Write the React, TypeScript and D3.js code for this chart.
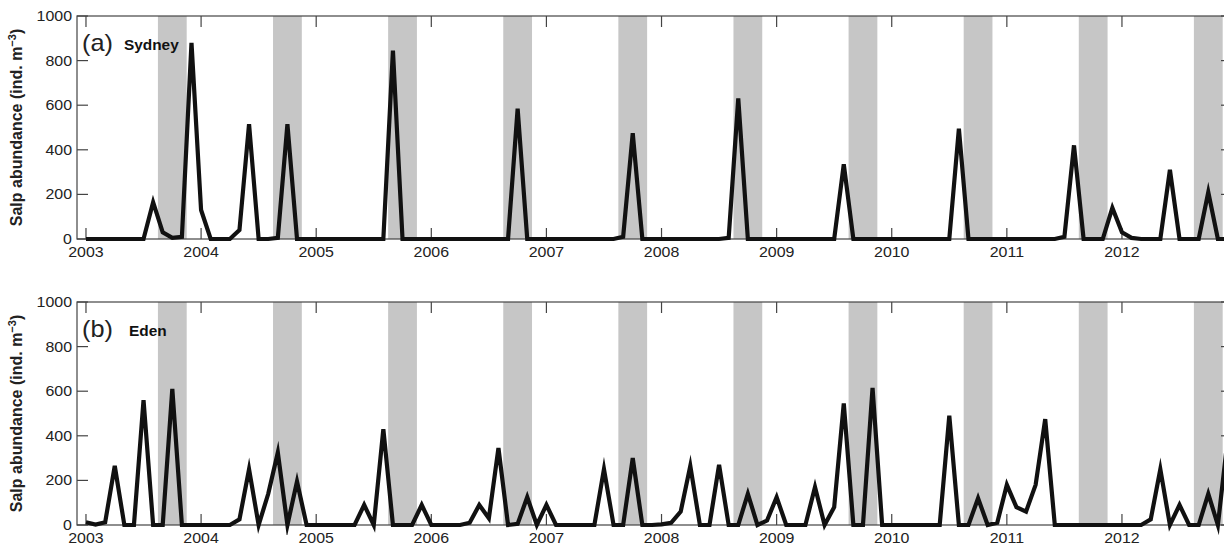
import * as d3 from 'd3';

// monthly samples, Jan 2003 .. Dec 2012
const startYear = 2003;
const sydney = [
  0, 0, 0, 0, 0, 0, 0, 165, 30, 5, 10, 880,
  130, 0, 0, 0, 40, 515, 0, 0, 5, 515, 0, 0,
  0, 0, 0, 0, 0, 0, 0, 0, 845, 0, 0, 0,
  0, 0, 0, 0, 0, 0, 0, 0, 0, 585, 0, 0,
  0, 0, 0, 0, 0, 0, 0, 0, 10, 475, 0, 0,
  0, 0, 0, 0, 0, 0, 0, 5, 630, 0, 0, 0,
  0, 0, 0, 0, 0, 0, 0, 335, 0, 0, 0, 0,
  0, 0, 0, 0, 0, 0, 0, 495, 0, 0, 0, 0,
  0, 0, 0, 0, 0, 0, 10, 420, 0, 0, 0, 140,
  30, 5, 0, 0, 0, 310, 0, 0, 0, 210, 0, 0,
];
const eden = [
  12, 2, 12, 265, 0, 0, 560, 0, 0, 610, 0, 0,
  0, 0, 0, 0, 25, 250, 0, 140, 325, 0, 195, 0,
  0, 0, 0, 0, 0, 90, 0, 430, 0, 0, 0, 90,
  0, 0, 0, 0, 10, 90, 30, 345, 0, 5, 125, 0,
  90, 0, 0, 0, 0, 0, 250, 0, 0, 300, 0, 0,
  3, 10, 60, 265, 0, 0, 270, 0, 0, 140, 0, 20,
  125, 0, 0, 0, 170, 0, 80, 545, 0, 0, 615, 0,
  0, 0, 0, 0, 0, 0, 490, 0, 0, 120, 0, 10,
  180, 80, 60, 180, 475, 0, 0, 0, 0, 0, 0, 0,
  0, 0, 0, 25, 250, 0, 90, 0, 0, 140, 0, 380,
];
const yearTicks = [2003, 2004, 2005, 2006, 2007, 2008, 2009, 2010, 2011, 2012];
const bandYears = [2003, 2004, 2005, 2006, 2007, 2008, 2009, 2010, 2011, 2012];
// shaded season: mid-Aug to mid-Nov
const bandStart = 7.5 / 12, bandEnd = 10.5 / 12;

const panels = [
  { tag: '(a)', site: 'Sydney', values: sydney, top: 16, bottom: 239 },
  { tag: '(b)', site: 'Eden', values: eden, top: 302, bottom: 525 },
];

const font = '"Liberation Sans", Arial, Helvetica, sans-serif';
const axisColor = '#444';
const left = 77, right = 1232, tickLen = 11;

const x = d3.scaleLinear().domain([2002.922, 2012.956]).range([left, right]);

function Panel({ p, idx }: { p: typeof panels[0]; idx: number }) {
  const y = d3.scaleLinear().domain([0, 1000]).range([p.bottom, p.top]);
  const line = d3.line<number>()
    .x((d, i) => x(startYear + i / 12))
    .y(d => y(d));
  const clipId = `clip${idx}`;
  const mid = (p.top + p.bottom) / 2;

  return (
    <g>
      <defs>
        <clipPath id={clipId}>
          <rect x={left} y={p.top - 20} width={right - left} height={p.bottom - p.top + 30} />
        </clipPath>
      </defs>
      {bandYears.map(yr => (
        <rect key={yr} x={x(yr + bandStart)} y={p.top}
          width={x(yr + bandEnd) - x(yr + bandStart)} height={p.bottom - p.top}
          fill="#c6c6c6" clipPath={`url(#${clipId})`} />
      ))}
      <rect x={left} y={p.top} width={right - left} height={p.bottom - p.top}
        fill="none" stroke={axisColor} strokeWidth={1.2} />
      {yearTicks.map(t => (
        <g key={t}>
          <line x1={x(t)} x2={x(t)} y1={p.bottom} y2={p.bottom - tickLen} stroke={axisColor} strokeWidth={1.2} />
          <line x1={x(t)} x2={x(t)} y1={p.top} y2={p.top + tickLen} stroke={axisColor} strokeWidth={1.2} />
          <text transform={`translate(${x(t)},${p.bottom + 17.5}) scale(1.1,1)`} textAnchor="middle"
            fontSize={14.5} fill="#222" fontFamily={font}>{t}</text>
        </g>
      ))}
      {y.ticks(5).map(t => (
        <g key={t}>
          <line x1={left} x2={left + tickLen} y1={y(t)} y2={y(t)} stroke={axisColor} strokeWidth={1.2} />
          <line x1={right} x2={right - tickLen} y1={y(t)} y2={y(t)} stroke={axisColor} strokeWidth={1.2} />
          <text transform={`translate(72,${y(t) + 5}) scale(1.1,1)`} textAnchor="end"
            fontSize={14.5} fill="#222" fontFamily={font}>{t}</text>
        </g>
      ))}
      <path d={line(p.values) || ''} fill="none" stroke="#111" strokeWidth={4.2}
        strokeLinejoin="miter" strokeMiterlimit={6} clipPath={`url(#${clipId})`} />
      <text transform={`translate(82,${p.top + 35}) scale(1.1,1)`} fontSize={23} fill="#222" fontFamily={font}>{p.tag}</text>
      <text transform={`translate(${p.site === 'Sydney' ? 124 : 129},${p.top + 34}) scale(1.1,1)`}
        fontSize={14} fontWeight="bold" fill="#111" fontFamily={font}>{p.site}</text>
      <text transform={`translate(22,${mid}) rotate(-90)`} textAnchor="middle" fontSize={16}
        fontWeight="bold" fill="#222" fontFamily={font}>
        Salp abundance (ind. m<tspan dy={-6} fontSize={11}>−3</tspan><tspan dy={6}>)</tspan>
      </text>
    </g>
  );
}

export default function App() {
  return (
    <svg width={1224} height={546} style={{ position: 'absolute', left: 0, top: 0, background: '#fff' }}>
      {panels.map((p, i) => <Panel key={p.site} p={p} idx={i} />)}
    </svg>
  );
}
